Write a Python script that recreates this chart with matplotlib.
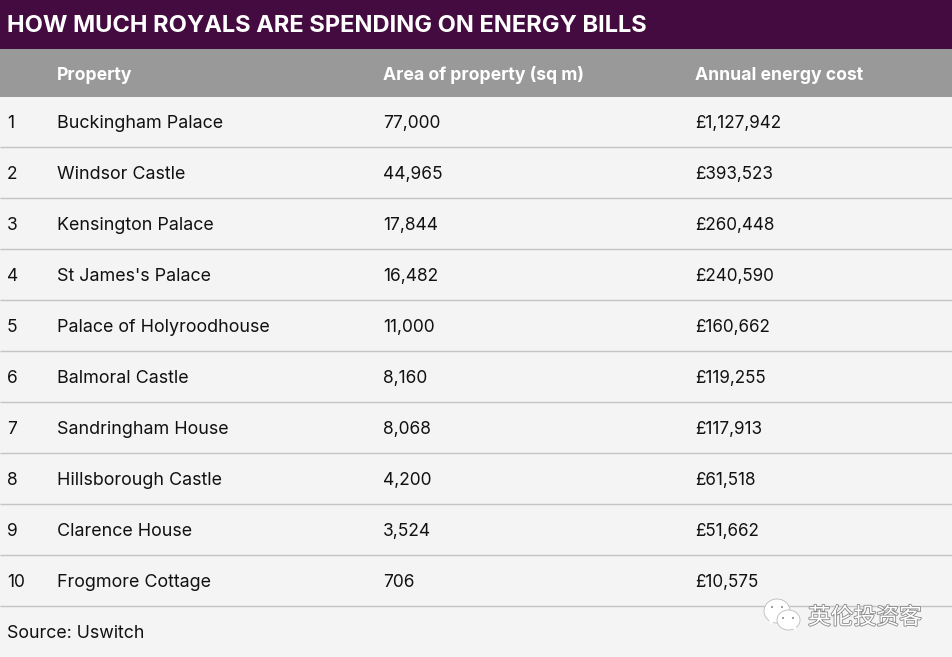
import matplotlib
matplotlib.use('Agg')
from matplotlib import pyplot as plt
from matplotlib.patches import Rectangle, Ellipse, Polygon
import matplotlib.patheffects as pe

font_name = 'Inter'
purple = '#430b40'
grey = '#999999'
bg = '#f4f4f4'
line_color = '#c4c4c4'

title = 'HOW MUCH ROYALS ARE SPENDING ON ENERGY BILLS'
headers = ['Property', 'Area of property (sq m)', 'Annual energy cost']
ranks = ['1', '2', '3', '4', '5', '6', '7', '8', '9', '10']
properties = ['Buckingham Palace', 'Windsor Castle', 'Kensington Palace', "St James's Palace",
              'Palace of Holyroodhouse', 'Balmoral Castle', 'Sandringham House',
              'Hillsborough Castle', 'Clarence House', 'Frogmore Cottage']
areas = ['77,000', '44,965', '17,844', '16,482', '11,000', '8,160', '8,068', '4,200', '3,524', '706']
costs = ['£1,127,942', '£393,523', '£260,448', '£240,590', '£160,662', '£119,255', '£117,913',
         '£61,518', '£51,662', '£10,575']
source = 'Source: Uswitch'
watermark = '英伦投资客'

w, h = 952, 657
col_x = [7, 57, 383, 695]
col_size = [12.5, 12.9, 12.5, 12.3]
row_top = 97
row_h = 51

fig = plt.figure(figsize=(w / 100, h / 100), dpi=100, facecolor=bg)
ax = fig.add_axes([0, 0, 1, 1])
ax.set_xlim(0, w)
ax.set_ylim(h, 0)
ax.axis('off')

ax.add_patch(Rectangle((0, 0), w, 49, color=purple, lw=0))
ax.add_patch(Rectangle((0, 49), w, 48, color=grey, lw=0))
ax.text(col_x[0], 32.5, title, color='white', fontsize=17.05, fontweight='bold', va='baseline', family=font_name)

for x, header in zip(col_x[1:], headers):
    ax.text(x, 79.5, header, color='white', fontsize=12.7, fontweight='bold', va='baseline', family=font_name)

for i in range(len(ranks)):
    y = row_top + row_h * i + 31
    row = [ranks[i], properties[i], areas[i], costs[i]]
    for x, value, size in zip(col_x, row, col_size):
        ax.text(x, y, value, color='#111111', fontsize=size, va='baseline', family=font_name)
    ax.plot([0, w], [row_top + row_h * (i + 1) - 1.5] * 2, color=line_color, lw=1, solid_capstyle='butt')

ax.text(col_x[0], 638, source, color='#111111', fontsize=12.8, va='baseline', family=font_name)

# watermark
for cx, cy, ew, eh in [(777, 611, 26, 24), (788.5, 620, 23, 20)]:
    ax.add_patch(Ellipse((cx, cy), ew, eh, fc='white', ec='#bbbbbb', lw=0.6, zorder=4))
ax.add_patch(Polygon([(769, 618), (770, 624), (776, 621)], fc='white', ec='none', zorder=4))
ax.add_patch(Polygon([(792, 628), (797, 631), (796, 627)], fc='white', ec='none', zorder=4))
for px, py in [(772, 607), (782, 607), (783, 618), (793, 618)]:
    ax.add_patch(Ellipse((px, py), 2, 2, fc='#888888', ec='none', zorder=5))
ax.text(808, 624, watermark, color='white', fontsize=16.4, va='baseline', zorder=5,
        family=['Noto Sans CJK SC', 'DejaVu Sans'],
        path_effects=[pe.withStroke(linewidth=1.2, foreground='#888888')])

fig.savefig('out.png', dpi=100, facecolor=bg)
plt.close()
